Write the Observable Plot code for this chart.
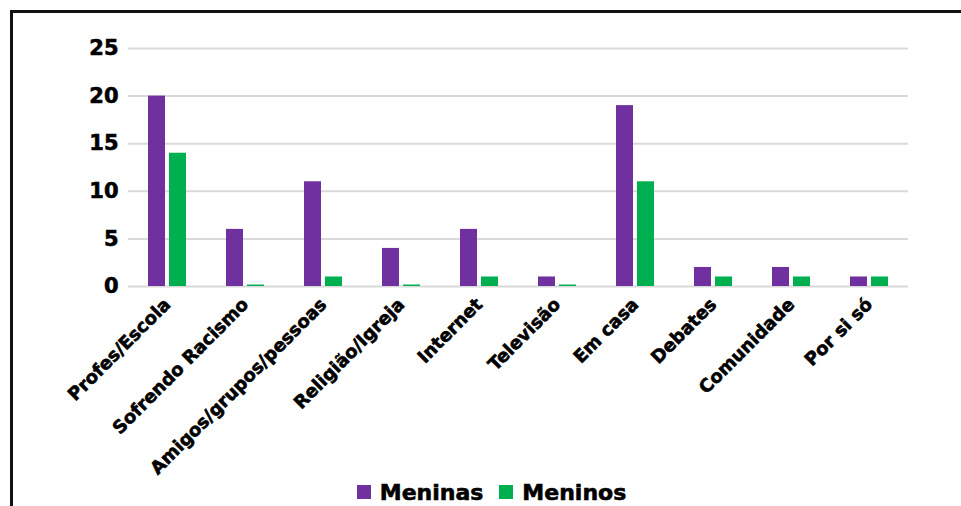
<!DOCTYPE html>
<html>
<head>
<meta charset="utf-8">
<script src="https://cdn.jsdelivr.net/npm/d3@7"></script>
<script src="https://cdn.jsdelivr.net/npm/@observablehq/plot@0.6"></script>
<style>
  html, body { margin: 0; padding: 0; background: #fff; }
  #wrap { position: relative; width: 961px; height: 506px; overflow: hidden; background: #fff; }
  #frame { position: absolute; left: 10px; top: 10px; width: 1000px; height: 600px;
           border-left: 3px solid #111; border-top: 3px solid #111; box-sizing: border-box; }
  #chart { position: absolute; left: 0; top: 0; width: 961px; }
  #chart svg text { stroke: #000; stroke-width: 0.6px; }
  #legend { display: flex; justify-content: center; align-items: center; height: 28px;
            padding-left: 22px; font-family: "DejaVu Sans", sans-serif; font-weight: bold;
            font-size: 22px; color: #000; -webkit-text-stroke: 0.6px #000; }
  #legend .item { display: flex; align-items: center; margin: 0 8px; }
  #legend .sw { width: 14px; height: 14px; margin-right: 9px; }
</style>
</head>
<body>
<div id="wrap">
  <div id="frame"></div>
  <div id="chart"></div>
</div>
<script>
// Onde aprenderam sobre racismo — respostas de meninas e meninos
const categorias = ["Profes/Escola", "Sofrendo Racismo", "Amigos/grupos/pessoas", "Religião/Igreja",
  "Internet", "Televisão", "Em casa", "Debates", "Comunidade", "Por si só"];
const grupos = ["Meninas", "Meninos"];
const meninas = [20, 6, 11, 4, 6, 1, 19, 2, 2, 1];
const meninos = [14, 0, 1, 0, 1, 0, 11, 1, 1, 1];
const cores = ["#7030a0", "#00b050"];
const yTicks = [0, 5, 10, 15, 20, 25];

const dados = categorias.flatMap((c, i) => [
  {categoria: c, grupo: grupos[0], valor: meninas[i]},
  {categoria: c, grupo: grupos[1], valor: meninos[i]}
]);

const chart = Plot.plot({
  width: 961,
  height: 478,
  marginLeft: 128,
  marginRight: 53,
  marginTop: 48,
  marginBottom: 192,
  style: {fontFamily: "DejaVu Sans, sans-serif", fontWeight: "bold", color: "#000", background: "transparent"},
  fx: {domain: categorias, paddingInner: 0, paddingOuter: 0},
  x: {domain: grupos, paddingInner: 0.18, paddingOuter: 0.864, axis: null},
  y: {domain: [0, 25]},
  color: {domain: grupos, range: cores},
  marks: [
    Plot.gridY(yTicks, {stroke: "#d9d9d9", strokeOpacity: 1, strokeWidth: 2}),
    Plot.axisY(yTicks, {tickSize: 0, tickPadding: 10, fontSize: 21, fontWeight: "bold", label: null}),
    Plot.axisFx({anchor: "bottom", tickRotate: -45, tickSize: 0, tickPadding: 15, fontSize: 18, fontWeight: "bold", label: null}),
    Plot.barY(dados.filter(d => d.valor > 0), {fx: "categoria", x: "grupo", y: "valor", fill: "grupo"}),
    // respostas nulas aparecem como um traço fino sobre a linha de base
    Plot.barY(dados.filter(d => d.valor === 0), {fx: "categoria", x: "grupo", y: "valor", fill: "grupo", insetTop: -1.5})
  ]
});
document.getElementById("chart").appendChild(chart);

const legend = d3.select("#chart").append("div").attr("id", "legend");
const items = legend.selectAll(".item").data(grupos).join("div").attr("class", "item");
items.append("div").attr("class", "sw").style("background", (d, i) => cores[i]);
items.append("span").text(d => d);
</script>
</body>
</html>
